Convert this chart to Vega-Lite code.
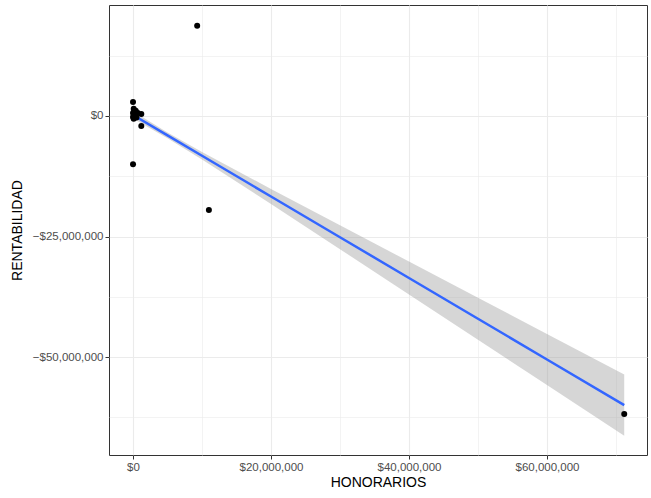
{
  "$schema": "https://vega.github.io/schema/vega-lite/v6.json",
  "width": 538,
  "height": 450,
  "autosize": "none",
  "padding": {"left": 109, "top": 5, "right": 4, "bottom": 43},
  "config": {
    "view": {"stroke": "#333333", "strokeWidth": 1},
    "font": "Liberation Sans",
    "axis": {
      "domain": false,
      "gridColor": "#EBEBEB",
      "tickColor": "#333333",
      "tickSize": 4,
      "labelColor": "#4D4D4D",
      "labelFontSize": 11.5,
      "labelFont": "Liberation Sans",
      "titleFont": "Liberation Sans",
      "titleFontSize": 14,
      "titleFontWeight": "normal",
      "titleColor": "#000000"
    }
  },
  "datasets": {
    "pts": [
      {"HONORARIOS": 0, "RENTABILIDAD": 2900000},
      {"HONORARIOS": 0, "RENTABILIDAD": -10000000},
      {"HONORARIOS": 9300000, "RENTABILIDAD": 18700000},
      {"HONORARIOS": 11000000, "RENTABILIDAD": -19500000},
      {"HONORARIOS": 71200000, "RENTABILIDAD": -61800000},
      {"HONORARIOS": 1200000, "RENTABILIDAD": -2100000},
      {"HONORARIOS": 1200000, "RENTABILIDAD": 400000},
      {"HONORARIOS": 100000, "RENTABILIDAD": 1500000},
      {"HONORARIOS": 400000, "RENTABILIDAD": 1100000},
      {"HONORARIOS": 700000, "RENTABILIDAD": 600000},
      {"HONORARIOS": 0, "RENTABILIDAD": 600000},
      {"HONORARIOS": 0, "RENTABILIDAD": -200000},
      {"HONORARIOS": 300000, "RENTABILIDAD": 200000},
      {"HONORARIOS": 100000, "RENTABILIDAD": -600000},
      {"HONORARIOS": 200000, "RENTABILIDAD": 1000000},
      {"HONORARIOS": 500000, "RENTABILIDAD": -300000}
    ],
    "fit": [
      {"HONORARIOS": 0, "fit": 200000, "lower": -550000, "upper": 950000},
      {"HONORARIOS": 5000000, "fit": -4030000, "lower": -4630000, "upper": -3430000},
      {"HONORARIOS": 10000000, "fit": -8250000, "lower": -9030000, "upper": -7470000},
      {"HONORARIOS": 20000000, "fit": -16700000, "lower": -18270000, "upper": -15130000},
      {"HONORARIOS": 30000000, "fit": -25150000, "lower": -27630000, "upper": -22670000},
      {"HONORARIOS": 40000000, "fit": -33600000, "lower": -37010000, "upper": -30190000},
      {"HONORARIOS": 50000000, "fit": -42050000, "lower": -46400000, "upper": -37700000},
      {"HONORARIOS": 60000000, "fit": -50500000, "lower": -55790000, "upper": -45210000},
      {"HONORARIOS": 71200000, "fit": -59960000, "lower": -66310000, "upper": -53610000}
    ]
  },
  "encoding": {
    "x": {
      "field": "HONORARIOS",
      "type": "quantitative",
      "scale": {"domain": [-3480000, 74500000], "nice": false, "zero": false},
      "axis": {
        "title": "HONORARIOS",
        "values": [0, 10000000, 20000000, 30000000, 40000000, 50000000, 60000000, 70000000],
        "labelExpr": "datum.value % 20000000 != 0 ? '' : '$' + format(datum.value, ',')",
        "tickOpacity": {"condition": {"test": "datum.value % 20000000 != 0", "value": 0}, "value": 1},
        "gridWidth": {"condition": {"test": "datum.value % 20000000 != 0", "value": 0.6}, "value": 1.1},
        "labelPadding": 2,
        "titlePadding": 3
      }
    }
  },
  "layer": [
    {
      "data": {"name": "fit"},
      "mark": {"type": "area", "color": "#999999", "opacity": 0.4},
      "encoding": {
        "y": {
          "field": "lower",
          "type": "quantitative",
          "scale": {"domain": [-70300000, 23000000], "nice": false, "zero": false},
          "axis": {
            "title": "RENTABILIDAD",
            "values": [12500000, 0, -12500000, -25000000, -37500000, -50000000, -62500000],
            "labelExpr": "datum.value % 25000000 != 0 ? '' : (datum.value < 0 ? '\u2212$' + format(-datum.value, ',') : '$' + format(datum.value, ','))",
            "tickOpacity": {"condition": {"test": "datum.value % 25000000 != 0", "value": 0}, "value": 1},
            "gridWidth": {"condition": {"test": "datum.value % 25000000 != 0", "value": 0.6}, "value": 1.1},
            "labelPadding": 2,
            "titlePadding": 8
          }
        },
        "y2": {"field": "upper"}
      }
    },
    {
      "data": {"name": "fit"},
      "mark": {"type": "line", "color": "#3366FF", "strokeWidth": 2.5},
      "encoding": {
        "y": {"field": "fit", "type": "quantitative", "title": "RENTABILIDAD"}
      }
    },
    {
      "data": {"name": "pts"},
      "mark": {"type": "circle", "color": "#000000", "opacity": 1, "size": 36},
      "encoding": {
        "y": {"field": "RENTABILIDAD", "type": "quantitative", "title": "RENTABILIDAD"}
      }
    }
  ]
}
